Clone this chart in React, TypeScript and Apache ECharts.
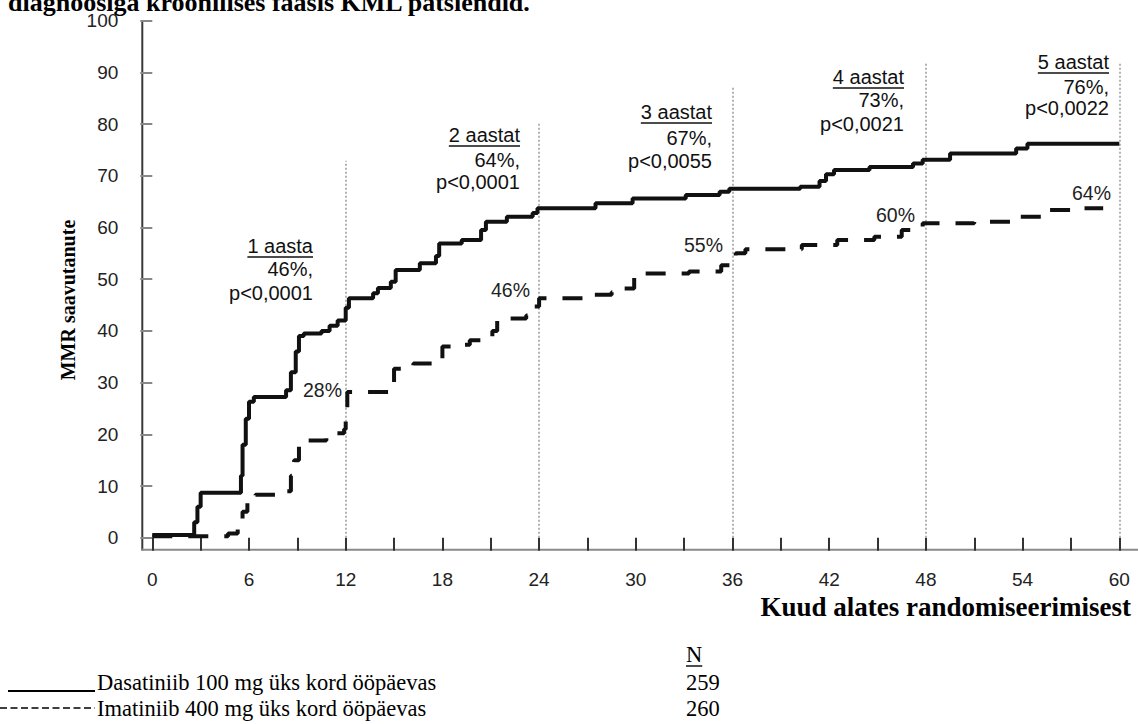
import React, { useEffect, useRef } from "react";
import * as echarts from "echarts";

// ---- Data ----
const dasatinibMonths = [0, 2.6, 2.8, 3.0, 5.5, 5.6, 5.8, 6.0, 6.3, 8.3, 8.6, 8.9, 9.1, 9.4, 10.5, 11.0, 11.5, 12.0, 12.2, 13.7, 14.0, 14.8, 15.1, 16.6, 17.6, 17.8, 19.2, 20.4, 20.7, 22.0, 23.6, 23.9, 27.5, 29.8, 33.1, 35.2, 35.8, 40.2, 41.4, 41.8, 42.3, 44.5, 47.2, 47.8, 49.5, 53.6, 54.3, 60];
const dasatinibValues = [0.5, 3, 6, 8.7, 12, 18, 23, 26.3, 27.2, 28.5, 32, 36, 39, 39.5, 40, 41, 42, 44.5, 46.3, 47.3, 48.3, 49.5, 51.8, 53.1, 54.5, 56.9, 57.6, 59.5, 61.1, 62.1, 62.8, 63.7, 64.7, 65.6, 66.3, 66.9, 67.5, 67.9, 69, 70.3, 71.1, 71.7, 72.4, 73.1, 74.3, 75.3, 76.2, 76.2];

const imatinibMonths = [0, 4.7, 5.3, 5.6, 5.9, 6.4, 8.3, 8.6, 8.8, 9.1, 9.4, 10.8, 11.4, 11.9, 12.0, 12.1, 14.7, 15.0, 16.2, 17.6, 18.0, 18.6, 19.7, 21.1, 21.4, 23.2, 23.6, 24.0, 26.9, 28.5, 29.0, 29.9, 33.3, 35.3, 35.9, 36.2, 36.8, 40.3, 42.5, 44.8, 46.5, 47.8, 51.0, 53.3, 55.2, 57.8, 59.0];
const imatinibValues = [0.3, 0.8, 2, 5, 7.5, 8.3, 9, 12, 15, 18, 18.8, 19.5, 20.2, 21, 24, 28.2, 30, 32.7, 33.7, 34.5, 37, 37.3, 38.2, 40, 42.4, 43, 44.7, 46.3, 47, 47.5, 48.2, 51.1, 51.5, 52.7, 53.5, 55, 55.8, 56.6, 57.6, 58.2, 59.5, 60.8, 61.1, 62.1, 63.4, 63.7, 63.7];

const milestoneMonths = [12, 24, 36, 48, 60];
const milestoneLineTops = [72.9, 80.3, 87.2, 91.8, 91.8];
const milestoneYears = ["1 aasta", "2 aastat", "3 aastat", "4 aastat", "5 aastat"];
const milestoneDasatinibPct = ["46%,", "64%,", "67%,", "73%,", "76%,"];
const milestonePValues = ["p<0,0001", "p<0,0001", "p<0,0055", "p<0,0021", "p<0,0022"];
const imatinibPctLabels = ["28%", "46%", "55%", "60%", "64%"];

const legendNames = ["Dasatiniib 100 mg üks kord ööpäevas", "Imatiniib 400 mg üks kord ööpäevas"];
const legendN = ["259", "260"];

const titleText = "diagnoosiga kroonilises faasis KML patsiendid.";
const xAxisTitle = "Kuud alates randomiseerimisest";
const yAxisTitle = "MMR saavutanute";

// ---- Layout (pixels) ----
const W = 1138;
const H = 724;
const SANS = '"Liberation Sans", Arial, sans-serif';
const SERIF = '"Liberation Serif", "Times New Roman", serif';

const annotationLayout = [
  { right: 313, ys: [246, 269, 293] },
  { right: 520, ys: [135, 160, 182] },
  { right: 712, ys: [112, 138, 161] },
  { right: 904, ys: [77, 100, 124] },
  { right: 1109, ys: [62, 87, 108] },
];
const pctLayout = [
  { right: 342, y: 390 },
  { right: 530, y: 290 },
  { right: 723, y: 245 },
  { right: 915, y: 215 },
  { right: 1111, y: 193 },
];

function measure(text: string, font: string): number {
  const ctx = document.createElement("canvas").getContext("2d");
  if (!ctx) return text.length * 9;
  ctx.font = font;
  return ctx.measureText(text).width;
}

function txt(text: string, x: number, y: number, font: string, align: string, extra: any = {}, fill = "#111", vAlign = "middle") {
  return {
    type: "text",
    x,
    y,
    silent: true,
    ...extra,
    style: {
      text,
      font,
      fill,
      align,
      textAlign: align,
      verticalAlign: vAlign,
      textVerticalAlign: vAlign,
    },
  };
}

function hline(x1: number, x2: number, y: number, width: number, color = "#111", dash?: number[]) {
  return {
    type: "line",
    silent: true,
    shape: { x1, y1: y, x2, y2: y },
    style: { stroke: color, lineWidth: width, lineDash: dash },
  };
}

export default function App() {
  const ref = useRef<HTMLDivElement>(null);

  useEffect(() => {
    if (!ref.current) return;
    const chart = echarts.init(ref.current, undefined, { renderer: "svg" });

    const annFont = `20px ${SANS}`;
    const graphics: any[] = [];

    // axis lines (offset from the plot area, as in the reference)
    graphics.push({
      type: "line", silent: true,
      shape: { x1: 142.3, y1: 20.7, x2: 142.3, y2: 550.5 },
      style: { stroke: "#3a3a3a", lineWidth: 2 },
    });
    graphics.push({
      type: "line", silent: true,
      shape: { x1: 141.3, y1: 549.7, x2: 1138, y2: 549.7 },
      style: { stroke: "#8a8a8a", lineWidth: 2 },
    });

    // milestone annotations
    milestoneYears.forEach((yr, i) => {
      const L = annotationLayout[i];
      graphics.push(txt(yr, L.right, L.ys[0], annFont, "right"));
      const w = measure(yr, annFont);
      graphics.push(hline(L.right - w, L.right, L.ys[0] + 11, 1.6));
      graphics.push(txt(milestoneDasatinibPct[i], L.right, L.ys[1], annFont, "right"));
      graphics.push(txt(milestonePValues[i], L.right, L.ys[2], annFont, "right"));
    });
    imatinibPctLabels.forEach((t, i) => {
      const P = pctLayout[i];
      graphics.push(txt(t, P.right, P.y, `19.5px ${SANS}`, "right", {}, "#222"));
    });

    // titles
    graphics.push(txt(titleText, 8, 15, `bold 26px ${SERIF}`, "left", {}, "#000", "bottom"));
    graphics.push(txt(xAxisTitle, 1131, 607, `bold 27px ${SERIF}`, "right", {}, "#000"));
    graphics.push(txt(yAxisTitle, 68, 300, `bold 20px ${SERIF}`, "center", { rotation: Math.PI / 2 }, "#000"));

    // legend block
    const legFont = `22.5px ${SERIF}`;
    graphics.push(txt("N", 686, 654, legFont, "left", {}, "#000"));
    graphics.push(hline(686, 686 + measure("N", legFont), 666, 1.4, "#000"));
    legendNames.forEach((name, i) => {
      const y = 682 + i * 26;
      graphics.push(txt(name, 97, y, legFont, "left", {}, "#000"));
      graphics.push(txt(legendN[i], 686, y, legFont, "left", {}, "#000"));
    });
    graphics.push(hline(8, 95, 691, 2, "#000"));
    graphics.push(hline(0, 95, 708, 1.6, "#000", [7, 3.5]));

    const milestoneLines = milestoneMonths.map((m, i) => [
      { coord: [m, 0] },
      { coord: [m, milestoneLineTops[i]] },
    ]);

    const option: any = {
      animation: false,
      backgroundColor: "#ffffff",
      grid: { left: 152.3, right: W - 1119.3, top: 20.7, bottom: H - 537.7, containLabel: false },
      xAxis: {
        type: "value",
        min: 0,
        max: 60,
        interval: 6,
        offset: 12,
        axisLine: { show: false },
        axisTick: { show: true, length: 13, lineStyle: { color: "#333", width: 2 } },
        minorTick: { show: true, splitNumber: 2, length: 13, lineStyle: { color: "#333", width: 2 } },
        axisLabel: { margin: 20, fontSize: 19, color: "#222", fontFamily: SANS },
        splitLine: { show: false },
        minorSplitLine: { show: false },
      },
      yAxis: {
        type: "value",
        min: 0,
        max: 100,
        interval: 10,
        offset: 10,
        axisLine: { show: false },
        axisTick: { show: true, length: 12, lineStyle: { color: "#888", width: 2 } },
        axisLabel: { margin: 24, fontSize: 19, color: "#222", fontFamily: SANS },
        splitLine: { show: false },
      },
      series: [
        {
          name: "Imatiniib",
          type: "line",
          step: "end",
          symbol: "none",
          data: imatinibMonths.map((m, i) => [m, imatinibValues[i]]),
          lineStyle: { color: "#111", width: 4, type: [20, 16] },
          z: 3,
        },
        {
          name: "Dasatiniib",
          type: "line",
          step: "end",
          symbol: "none",
          data: dasatinibMonths.map((m, i) => [m, dasatinibValues[i]]),
          lineStyle: { color: "#111", width: 4 },
          z: 4,
          markLine: {
            silent: true,
            symbol: ["none", "none"],
            label: { show: false },
            lineStyle: { color: "#9a9a9a", width: 1.5, type: [2, 2] },
            data: milestoneLines,
            z: 1,
          },
        },
      ],
      graphic: { elements: graphics },
    };

    chart.setOption(option);
    return () => chart.dispose();
  }, []);

  return (
    <div
      ref={ref}
      style={{ position: "absolute", left: 0, top: 0, width: W, height: H, background: "#fff" }}
    />
  );
}
